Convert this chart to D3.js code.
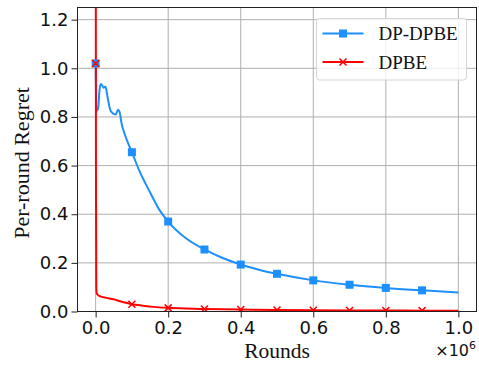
<!DOCTYPE html>
<html>
<head>
<meta charset="utf-8">
<script src="https://cdn.jsdelivr.net/npm/d3@7"></script>
<style>
  html, body { margin: 0; padding: 0; background: white; }
  svg { display: block; }
</style>
</head>
<body>
<div id="chart"></div>
<script>
// DP-DPBE curve (rounds, per-round regret)
const dpdpbeRounds = [0, 1000, 2500, 4000, 7000, 10000, 14000, 18000, 22000, 27000, 33000, 40000, 47000, 55000, 62000, 66000, 72000, 80000, 90000, 100000, 120000, 150000, 175000, 200000, 250000, 300000, 350000, 400000, 450000, 500000, 600000, 700000, 800000, 900000, 1000000];
const dpdpbeRegret = [1.02, 0.9, 0.82, 0.84, 0.83, 0.9, 0.935, 0.93, 0.92, 0.925, 0.88, 0.83, 0.815, 0.81, 0.83, 0.82, 0.77, 0.73, 0.69, 0.655, 0.58, 0.49, 0.42, 0.37, 0.3, 0.255, 0.22, 0.193, 0.172, 0.155, 0.128, 0.11, 0.097, 0.087, 0.078];

// DPBE curve
const dpbeRounds = [0, 1000, 1800, 3000, 5000, 8000, 15000, 30000, 50000, 65000, 80000, 100000, 130000, 160000, 200000, 250000, 300000, 400000, 500000, 600000, 700000, 800000, 900000, 1000000];
const dpbeRegret = [2.0, 0.5, 0.1, 0.075, 0.07, 0.066, 0.061, 0.056, 0.05, 0.043, 0.037, 0.03, 0.024, 0.019, 0.015, 0.012, 0.01, 0.008, 0.006, 0.005, 0.0045, 0.004, 0.0035, 0.003];

// marker positions
const markerRounds = [0, 100000, 200000, 300000, 400000, 500000, 600000, 700000, 800000, 900000];
const dpdpbeMarkers = [1.02, 0.655, 0.37, 0.255, 0.193, 0.155, 0.128, 0.11, 0.097, 0.087];
const dpbeMarkers = [1.02, 0.03, 0.015, 0.01, 0.008, 0.006, 0.005, 0.0045, 0.004, 0.0035];

const xTicks = [0, 200000, 400000, 600000, 800000, 1000000];
const yTicks = [0, 0.2, 0.4, 0.6, 0.8, 1.0, 1.2];

const seriesNames = ['DP-DPBE', 'DPBE'];
const blue = '#1e8fff';
const red = '#ff0000';

const width = 479, height = 365;
const margin = { top: 7.5, right: 2.5, bottom: 53.5, left: 77.5 };
const innerW = width - margin.left - margin.right;
const innerH = height - margin.top - margin.bottom;

const svg = d3.select('#chart').append('svg')
    .attr('width', width)
    .attr('height', height);

const g = svg.append('g')
    .attr('transform', 'translate(' + margin.left + ',' + margin.top + ')');

const xScale = d3.scaleLinear().domain([-50000, 1050000]).range([0, innerW]);
const yScale = d3.scaleLinear().domain([0, 1.25]).range([innerH, 0]);

// grid
g.append('g').selectAll('line').data(xTicks).enter().append('line')
    .attr('x1', d => xScale(d)).attr('x2', d => xScale(d))
    .attr('y1', 0).attr('y2', innerH)
    .style('stroke', '#b0b0b0').style('stroke-width', 1);
g.append('g').selectAll('line').data(yTicks).enter().append('line')
    .attr('x1', 0).attr('x2', innerW)
    .attr('y1', d => yScale(d)).attr('y2', d => yScale(d))
    .style('stroke', '#b0b0b0').style('stroke-width', 1);

// clip
svg.append('defs').append('clipPath').attr('id', 'plotClip')
    .append('rect').attr('width', innerW).attr('height', innerH);

const plot = g.append('g').attr('clip-path', 'url(#plotClip)');

const line = d3.line()
    .x(d => xScale(d[0]))
    .y(d => yScale(d[1]))
    .curve(d3.curveMonotoneX);

const dpdpbeData = dpdpbeRounds.map((r, i) => [r, dpdpbeRegret[i]]);
const dpbeData = dpbeRounds.map((r, i) => [r, dpbeRegret[i]]);

plot.append('path').datum(dpdpbeData)
    .attr('d', line)
    .style('fill', 'none').style('stroke', blue).style('stroke-width', 2);
plot.append('path').datum(dpbeData)
    .attr('d', line)
    .style('fill', 'none').style('stroke', red).style('stroke-width', 2);

// markers
plot.append('g').selectAll('rect').data(markerRounds).enter().append('rect')
    .attr('x', d => xScale(d) - 4)
    .attr('y', (d, i) => yScale(dpdpbeMarkers[i]) - 4)
    .attr('width', 8).attr('height', 8)
    .style('fill', blue);

function crossPath(cx, cy, s) {
    return 'M' + (cx - s) + ',' + (cy - s) + 'L' + (cx + s) + ',' + (cy + s) +
        'M' + (cx - s) + ',' + (cy + s) + 'L' + (cx + s) + ',' + (cy - s);
}
plot.append('g').selectAll('path').data(markerRounds).enter().append('path')
    .attr('d', (d, i) => crossPath(xScale(d), yScale(dpbeMarkers[i]), 3.5))
    .style('stroke', red).style('stroke-width', 1.5).style('fill', 'none');

// axes
const xAxis = d3.axisBottom(xScale).tickValues(xTicks)
    .tickFormat(d => (d / 1e6).toFixed(1)).tickSize(6).tickPadding(4);
const yAxis = d3.axisLeft(yScale).tickValues(yTicks)
    .tickFormat(d => d.toFixed(1)).tickSize(6).tickPadding(3);

const xg = g.append('g').attr('transform', 'translate(0,' + innerH + ')').call(xAxis);
const yg = g.append('g').call(yAxis);
[xg, yg].forEach(a => {
    a.select('.domain').remove();
    a.selectAll('.tick line').style('stroke', '#222').style('stroke-width', 1);
    a.selectAll('.tick text')
        .style('font-family', '"DejaVu Sans", sans-serif')
        .style('font-size', '18px')
        .style('fill', '#111');
});

// frame
g.append('rect')
    .attr('width', innerW).attr('height', innerH)
    .style('fill', 'none').style('stroke', '#222').style('stroke-width', 1);

// axis labels
svg.append('text')
    .attr('x', margin.left + innerW / 2).attr('y', 357.5)
    .attr('text-anchor', 'middle')
    .style('font-family', '"Liberation Serif", "Times New Roman", serif')
    .style('font-size', '21.5px').style('fill', '#111')
    .text('Rounds');

svg.append('text')
    .attr('transform', 'translate(28.5,163) rotate(-90)')
    .attr('text-anchor', 'middle')
    .style('font-family', '"Liberation Serif", "Times New Roman", serif')
    .style('font-size', '22px').style('fill', '#111')
    .text('Per-round Regret');

const mult = svg.append('text')
    .attr('x', 476).attr('y', 356)
    .attr('text-anchor', 'end')
    .style('font-family', '"DejaVu Sans", sans-serif')
    .style('font-size', '16px').style('fill', '#111');
mult.append('tspan').text('\u00d710');
mult.append('tspan').attr('dy', -7).style('font-size', '11px').text('6');

// legend
const legend = svg.append('g').attr('transform', 'translate(316.5,18.5)');
legend.append('rect')
    .attr('width', 150).attr('height', 61.5).attr('rx', 3)
    .style('fill', 'white').style('fill-opacity', 0.8)
    .style('stroke', '#d6d6d6').style('stroke-width', 1);

const legendRows = legend.selectAll('.legendRow').data(seriesNames).enter().append('g')
    .attr('class', 'legendRow')
    .attr('transform', (d, i) => 'translate(0,' + (15 + i * 28.5) + ')');
legendRows.append('line')
    .attr('x1', 6).attr('x2', 47).attr('y1', 0).attr('y2', 0)
    .style('stroke', (d, i) => i === 0 ? blue : red).style('stroke-width', 2);
legendRows.filter((d, i) => i === 0).append('rect')
    .attr('x', 22.5).attr('y', -4).attr('width', 8).attr('height', 8)
    .style('fill', blue);
legendRows.filter((d, i) => i === 1).append('path')
    .attr('d', crossPath(26.5, 0, 3.5))
    .style('stroke', red).style('stroke-width', 1.5);
legendRows.append('text')
    .attr('x', 62).attr('y', 6.5)
    .style('font-family', '"Liberation Serif", "Times New Roman", serif')
    .style('font-size', '19px').style('fill', '#111')
    .text(d => d);
</script>
</body>
</html>
